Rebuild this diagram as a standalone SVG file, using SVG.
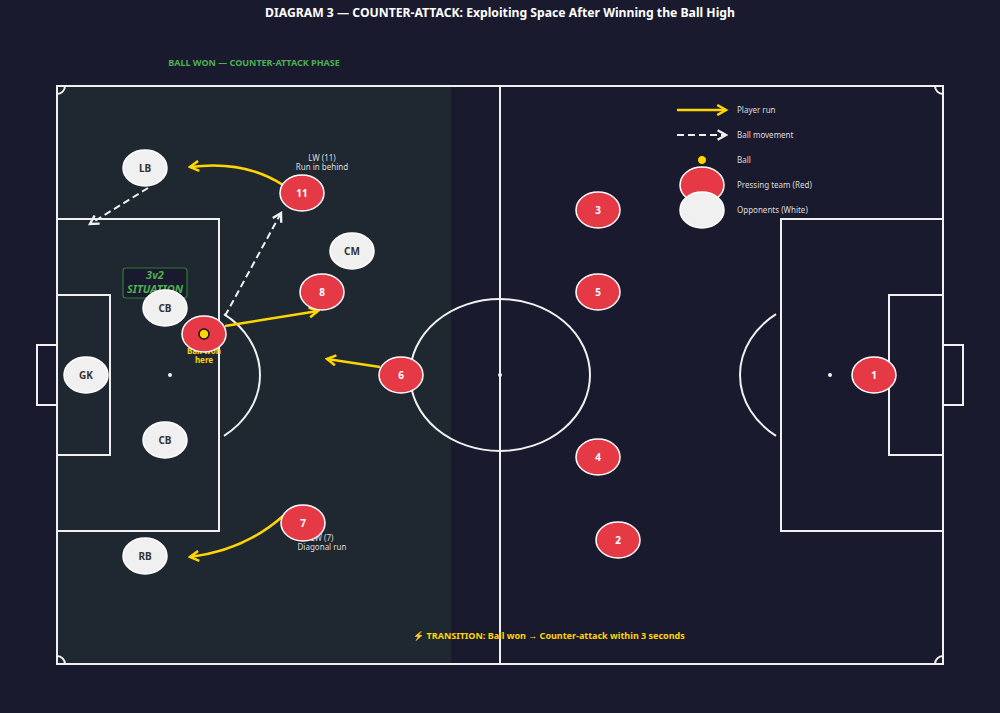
<svg xmlns="http://www.w3.org/2000/svg" width="1000" height="713" viewBox="0 0 1000 713">
<defs>
<style>
.line{fill:none;stroke:#f0f0f0;stroke-width:2}
.red{fill:#e63946;stroke:#ffffff;stroke-width:1.5}
.white{fill:#f0f0f0;stroke:#ffffff;stroke-width:1.5}
.rt{font-family:"Noto Sans",sans-serif;font-size:10px;font-weight:bold;fill:#ffffff;text-anchor:middle}
.wt{font-family:"Noto Sans",sans-serif;font-size:10px;font-weight:bold;fill:#333333;text-anchor:middle}
.run{fill:none;stroke:#ffd600;stroke-width:2.5}
.ball{fill:none;stroke:#f0f0f0;stroke-width:2;stroke-dasharray:7,4}
.lbl{font-family:"Noto Sans",sans-serif;font-size:8px;fill:#dddddd;text-anchor:middle}
.leg{font-family:"Noto Sans",sans-serif;font-size:8px;fill:#dddddd}
</style>
<marker id="ay" viewBox="0 0 10 10" refX="8" refY="5" markerWidth="5" markerHeight="5" orient="auto" markerUnits="strokeWidth">
<path d="M1,1 L8,5 L1,9" fill="none" stroke="#ffd600" stroke-width="2"/>
</marker>
<marker id="aw" viewBox="0 0 10 10" refX="8" refY="5" markerWidth="6" markerHeight="6" orient="auto" markerUnits="strokeWidth">
<path d="M1,1 L8,5 L1,9" fill="none" stroke="#f0f0f0" stroke-width="2"/>
</marker>
</defs>
<rect x="0" y="0" width="1000" height="713" fill="#1a1a2e"/>
<text x="500" y="17" font-family="Noto Sans, sans-serif" font-size="12.2" font-weight="bold" fill="#ffffff" text-anchor="middle">DIAGRAM 3 — COUNTER-ATTACK: Exploiting Space After Winning the Ball High</text>
<text x="254" y="66" font-family="Noto Sans, sans-serif" font-size="9" font-weight="bold" fill="#4caf50" text-anchor="middle">BALL WON — COUNTER-ATTACK PHASE</text>
<g id="pitch">
<rect x="57" y="86" width="394" height="578" fill="#1f2731"/>
<rect x="57" y="86" width="886" height="578" class="line"/>
<line x1="500" y1="86" x2="500" y2="664" class="line"/>
<ellipse cx="500" cy="375" rx="90" ry="76" class="line"/>
<circle cx="500" cy="375" r="2" fill="#f0f0f0"/>
<rect x="57" y="219" width="162" height="312" class="line"/>
<rect x="57" y="295" width="53" height="160" class="line"/>
<rect x="37" y="345" width="20" height="60" class="line"/>
<circle cx="170" cy="375" r="2" fill="#f0f0f0"/>
<path d="M224,314.2 A90,76 0 0 1 224,435.8" class="line"/>
<rect x="781" y="219" width="162" height="312" class="line"/>
<rect x="889" y="295" width="54" height="160" class="line"/>
<rect x="943" y="345" width="20" height="60" class="line"/>
<circle cx="830" cy="375" r="2" fill="#f0f0f0"/>
<path d="M776,314.2 A90,76 0 0 0 776,435.8" class="line"/>
<path d="M57,94 A8,8 0 0 0 65,86" class="line"/>
<path d="M935,86 A8,8 0 0 0 943,94" class="line"/>
<path d="M57,656 A8,8 0 0 1 65,664" class="line"/>
<path d="M935,664 A8,8 0 0 1 943,656" class="line"/>
</g>
<g id="situation">
<rect x="123" y="268" width="64" height="30" rx="3" fill="#1a1a2e" stroke="#2e7d32" stroke-width="1.2"/>
<text x="155" y="279" font-family="Noto Sans, sans-serif" font-size="11" font-weight="bold" font-style="italic" fill="#4caf50" text-anchor="middle">3v2</text>
<text x="155" y="293" font-family="Noto Sans, sans-serif" font-size="11" font-weight="bold" font-style="italic" fill="#4caf50" text-anchor="middle">SITUATION</text>
</g>
<g id="labels">
<text x="322" y="161" class="lbl">LW (11)</text>
<text x="322" y="170" class="lbl">Run in behind</text>
<text x="322" y="541" class="lbl">LW (7)</text>
<text x="322" y="550" class="lbl">Diagonal run</text>
<text x="204" y="354" font-family="Noto Sans, sans-serif" font-size="8" font-weight="bold" fill="#ffd600" text-anchor="middle">Ball won</text>
<text x="204" y="363" font-family="Noto Sans, sans-serif" font-size="8" font-weight="bold" fill="#ffd600" text-anchor="middle">here</text>
</g>
<g id="connectors">
<path d="M283,185 Q245,160 190,167" class="run" marker-end="url(#ay)"/>
<path d="M283,516 Q245,550 190,557" class="run" marker-end="url(#ay)"/>
<path d="M225,326 L318,311" class="run" marker-end="url(#ay)"/>
<line x1="380" y1="367" x2="327" y2="359" class="run" marker-end="url(#ay)"/>
<line x1="225" y1="316" x2="281" y2="213" class="ball" marker-end="url(#aw)"/>
<line x1="148" y1="188" x2="90" y2="224" class="ball" marker-end="url(#aw)"/>
</g>
<g id="opp-LB"><ellipse cx="145" cy="168" rx="22" ry="18" class="white"/><text x="145" y="172" class="wt">LB</text></g>
<g id="opp-CM"><ellipse cx="352" cy="251" rx="22" ry="18" class="white"/><text x="352" y="255" class="wt">CM</text></g>
<g id="opp-CB1"><ellipse cx="165" cy="308" rx="22" ry="18" class="white"/><text x="165" y="312" class="wt">CB</text></g>
<g id="opp-GK"><ellipse cx="86" cy="375" rx="22" ry="18" class="white"/><text x="86" y="379" class="wt">GK</text></g>
<g id="opp-CB2"><ellipse cx="165" cy="440" rx="22" ry="18" class="white"/><text x="165" y="444" class="wt">CB</text></g>
<g id="opp-RB"><ellipse cx="145" cy="556" rx="22" ry="18" class="white"/><text x="145" y="560" class="wt">RB</text></g>
<g id="p11"><ellipse cx="302" cy="193" rx="22" ry="18" class="red"/><text x="302" y="197" class="rt">11</text></g>
<g id="p8"><ellipse cx="322" cy="292" rx="22" ry="18" class="red"/><text x="322" y="296" class="rt">8</text></g>
<g id="p-ball"><ellipse cx="204" cy="334" rx="22" ry="18" class="red"/><circle cx="204" cy="334" r="5" fill="#ffd600" stroke="#111111" stroke-width="1.5"/></g>
<g id="p6"><ellipse cx="401" cy="375" rx="22" ry="18" class="red"/><text x="401" y="379" class="rt">6</text></g>
<g id="p7"><ellipse cx="303" cy="523" rx="22" ry="18" class="red"/><text x="303" y="527" class="rt">7</text></g>
<g id="p3"><ellipse cx="598" cy="210" rx="22" ry="18" class="red"/><text x="598" y="214" class="rt">3</text></g>
<g id="p5"><ellipse cx="598" cy="292" rx="22" ry="18" class="red"/><text x="598" y="296" class="rt">5</text></g>
<g id="p4"><ellipse cx="598" cy="457" rx="22" ry="18" class="red"/><text x="598" y="461" class="rt">4</text></g>
<g id="p2"><ellipse cx="618" cy="540" rx="22" ry="18" class="red"/><text x="618" y="544" class="rt">2</text></g>
<g id="p1"><ellipse cx="874" cy="375" rx="22" ry="18" class="red"/><text x="874" y="379" class="rt">1</text></g>
<g id="legend">
<line x1="677" y1="110" x2="726" y2="110" class="run" marker-end="url(#ay)"/>
<text x="737" y="113" class="leg">Player run</text>
<line x1="677" y1="135" x2="726" y2="135" class="ball" marker-end="url(#aw)"/>
<text x="737" y="138" class="leg">Ball movement</text>
<circle cx="702" cy="160" r="4.5" fill="#ffd600" stroke="#111111" stroke-width="1"/>
<text x="737" y="163" class="leg">Ball</text>
<ellipse cx="702" cy="185" rx="22" ry="18" class="red"/>
<text x="737" y="188" class="leg">Pressing team (Red)</text>
<ellipse cx="702" cy="210" rx="22" ry="18" class="white"/>
<text x="737" y="213" class="leg">Opponents (White)</text>
</g>
<text x="549" y="639" font-family="Noto Sans, sans-serif" font-size="9" font-weight="bold" fill="#ffd600" text-anchor="middle">⚡ TRANSITION: Ball won → Counter-attack within 3 seconds</text>
</svg>
